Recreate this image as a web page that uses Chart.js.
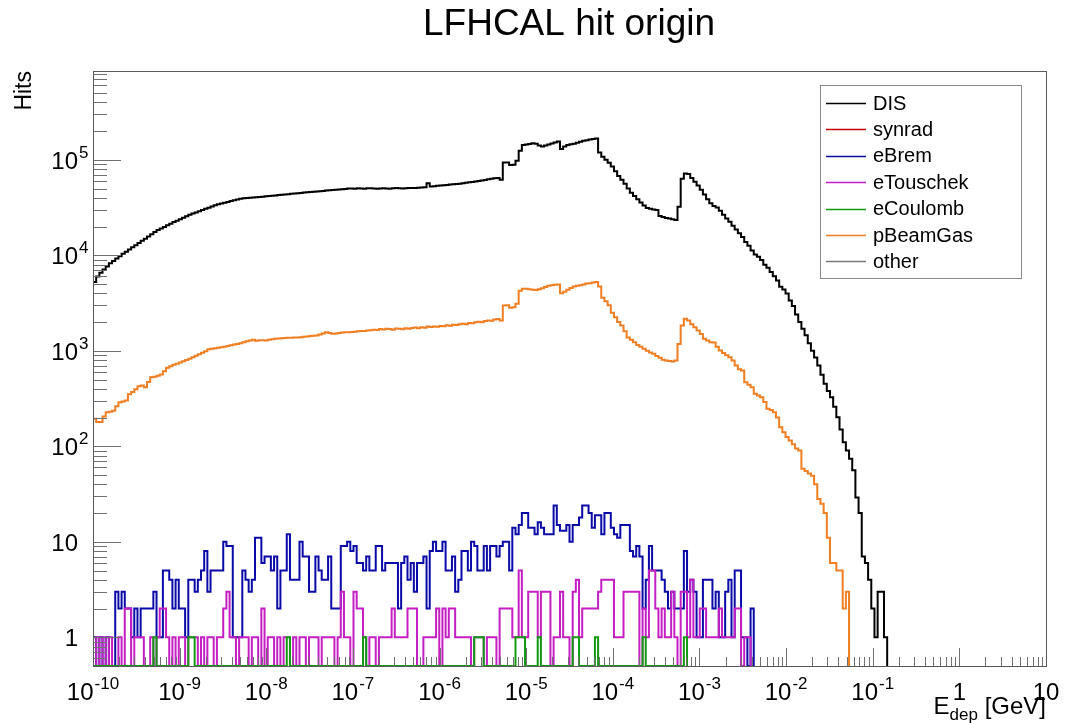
<!DOCTYPE html>
<html>
<head>
<meta charset="utf-8">
<script src="https://cdn.jsdelivr.net/npm/chart.js@4.4.1/dist/chart.umd.min.js"></script>
<style>
  html, body { margin: 0; padding: 0; background: #ffffff; }
  #tela { display: block; }
</style>
</head>
<body>
<canvas id="tela" width="1068" height="723"></canvas>
<script>
// binning of the histograms: log bins from 1e-10 to 10 GeV
const nBins = 300;
const logMin = -10;
const logMax = 1;

// hits per bin (bins after the last value are empty)
const disHits = [
  5250, 6000, 6560, 7080, 7640, 8240, 8710, 9250, 9790, 10380,
  10910, 11510, 12110, 12760, 13430, 14160, 14930, 15740, 16600, 17540,
  18370, 19100, 19820, 20610, 21430, 22230, 23010, 23880, 24720, 25640,
  26550, 27350, 28120, 28910, 29790, 30620, 31480, 32430, 33340, 34200,
  34830, 35560, 36220, 36980, 37670, 38460, 39170, 39450, 39720, 39990,
  40270, 40550, 40830, 41110, 41400, 41690, 41980, 42360, 42660, 42950,
  43250, 43650, 43950, 44260, 44670, 44980, 45290, 45600, 45920, 46240,
  46560, 46880, 47210, 47530, 47860, 48190, 48530, 48860, 49200, 49550,
  49890, 50100, 49800, 50300, 50000, 49700, 50200, 50400, 49900, 49600,
  50000, 50300, 50100, 49800, 50200, 50500, 50300, 50100, 50400, 50600,
  50470, 50580, 50930, 51290, 51640, 56890, 52480, 52840, 53330, 53700,
  54080, 54450, 54950, 55340, 55720, 56230, 56890, 57410, 58080, 58610,
  59290, 59980, 60810, 61520, 62370, 63100, 63970, 64570, 61800, 93800,
  93500, 88100, 88500, 97700, 124200, 142600, 144500, 146600, 148600, 147200,
  141300, 138000, 141300, 144500, 147900, 151400, 155200, 129400, 138000, 142900,
  145200, 147200, 150700, 154200, 157800, 160300, 162900, 165200, 167100, 119100,
  107200, 100000, 93300, 85100, 75900, 67600, 61700, 56200, 50100, 45200,
  41700, 38500, 35700, 33100, 31300, 30700, 30200, 29800, 25700, 25100,
  24500, 24200, 23800, 23400, 32200, 63100, 71900, 70800, 64600, 58900,
  53700, 48400, 43200, 38500, 35100, 32700, 31600, 29200, 26600, 24300,
  22400, 20400, 18600, 17000, 15500, 13800, 12600, 11200, 10200, 9660,
  8910, 7940, 7410, 6680, 6030, 5430, 4680, 4370, 3980, 3350,
  2950, 2400, 2000, 1700, 1450, 1200, 1000, 851, 700, 560,
  450, 380, 326, 260, 201, 150, 110, 90, 74, 56,
  29, 20, 7, 6, 4, 2, 1, 3, 3, 1
];

const synradHits = [];

const eBremHits = [
  1, 0, 1, 0, 1, 0, 0, 3, 2, 3,
  2, 2, 1, 2, 1, 2, 2, 2, 2, 3,
  1, 1, 5, 5, 4, 2, 4, 2, 2, 1,
  4, 4, 3, 4, 5, 8, 3, 5, 5, 5,
  5, 10, 9, 9, 1, 1, 1, 5, 4, 3,
  4, 11, 11, 6, 7, 7, 5, 7, 2, 5,
  5, 12, 4, 4, 4, 10, 7, 7, 3, 3,
  7, 5, 4, 4, 7, 2, 2, 2, 9, 9,
  10, 8, 9, 6, 6, 5, 7, 5, 5, 9,
  9, 5, 6, 6, 6, 6, 2, 6, 7, 4,
  6, 3, 6, 6, 7, 2, 8, 10, 8, 8,
  10, 5, 5, 7, 3, 4, 8, 8, 5, 10,
  9, 5, 5, 9, 5, 9, 9, 7, 9, 10,
  10, 5, 14, 12, 15, 20, 20, 14, 14, 12,
  16, 14, 12, 12, 12, 24, 15, 13, 13, 15,
  10, 15, 15, 18, 24, 24, 20, 14, 19, 19,
  12, 20, 20, 14, 12, 11, 15, 15, 15, 8,
  7, 9, 7, 2, 4, 9, 5, 5, 5, 4,
  3, 2, 3, 2, 2, 2, 8, 3, 4, 3,
  1, 1, 4, 4, 4, 2, 3, 1, 1, 3,
  4, 1, 5, 5, 1, 1, 0, 2
];

const eTouschekHits = [
  0, 1, 0, 1, 0, 1, 0, 0, 1, 0,
  2, 2, 0, 1, 1, 1, 0, 0, 1, 0,
  1, 2, 2, 1, 0, 1, 0, 1, 1, 0,
  1, 1, 1, 0, 1, 0, 1, 1, 0, 1,
  1, 2, 3, 1, 1, 0, 1, 1, 1, 0,
  1, 1, 0, 2, 0, 1, 1, 0, 1, 0,
  1, 1, 0, 1, 0, 1, 1, 0, 1, 1,
  1, 0, 1, 1, 1, 1, 0, 1, 3, 1,
  1, 0, 3, 2, 2, 1, 0, 1, 1, 0,
  1, 1, 1, 1, 2, 1, 1, 1, 1, 2,
  2, 2, 0, 0, 1, 1, 1, 1, 2, 0,
  2, 1, 2, 2, 1, 1, 1, 1, 1, 0,
  1, 1, 1, 0, 1, 1, 1, 0, 2, 2,
  2, 2, 1, 1, 5, 1, 1, 3, 3, 3,
  1, 3, 3, 3, 0, 1, 1, 3, 1, 1,
  0, 3, 4, 1, 2, 2, 2, 2, 2, 3,
  4, 4, 4, 4, 1, 1, 1, 3, 3, 3,
  3, 3, 0, 2, 1, 5, 5, 2, 1, 2,
  1, 1, 3, 1, 0, 3, 3, 1, 4, 1,
  1, 2, 2, 1, 1, 1, 1, 2, 1, 1,
  1, 1, 2, 2, 0, 1, 1
];

const eCoulombHits = [
  0, 0, 0, 0, 0, 0, 0, 0, 0, 0,
  0, 0, 0, 0, 0, 0, 0, 0, 0, 1,
  0, 0, 0, 0, 0, 0, 0, 0, 0, 0,
  1, 1, 0, 0, 0, 0, 0, 0, 0, 0,
  0, 0, 0, 0, 0, 0, 0, 0, 0, 0,
  0, 0, 0, 0, 0, 0, 0, 0, 0, 0,
  0, 1, 0, 0, 0, 0, 0, 0, 0, 0,
  0, 0, 0, 0, 0, 0, 0, 0, 0, 0,
  0, 0, 0, 0, 0, 1, 0, 0, 0, 0,
  0, 0, 0, 0, 0, 0, 0, 0, 0, 0,
  0, 0, 0, 0, 0, 0, 0, 0, 0, 0,
  0, 0, 0, 0, 0, 0, 0, 0, 0, 0,
  1, 1, 1, 0, 0, 0, 0, 0, 0, 0,
  0, 0, 0, 1, 1, 1, 0, 0, 0, 0,
  1, 0, 0, 0, 0, 0, 0, 0, 0, 0,
  0, 1, 1, 0, 0, 0, 0, 0, 1, 0,
  0, 0, 0, 0, 0, 0, 0, 0, 0, 0,
  0, 0, 0, 1, 0, 0, 0, 0, 0, 0,
  0, 0, 0, 0, 0, 0, 1
];

const pBeamGasHits = [
  194, 179, 180, 205, 227, 230, 235, 262, 289, 295,
  301, 350, 370, 395, 425, 433, 415, 470, 528, 535,
  548, 565, 610, 665, 690, 715, 730, 755, 775, 800,
  823, 855, 885, 920, 955, 990, 1040, 1050, 1065, 1075,
  1085, 1100, 1120, 1140, 1165, 1180, 1200, 1230, 1255, 1280,
  1300, 1270, 1290, 1285, 1278, 1300, 1320, 1332, 1340, 1350,
  1360, 1365, 1370, 1375, 1380, 1384, 1400, 1410, 1425, 1435,
  1442, 1480, 1520, 1560, 1530, 1503, 1520, 1535, 1550, 1560,
  1561, 1570, 1585, 1600, 1610, 1615, 1626, 1640, 1660, 1650,
  1690, 1670, 1700, 1690, 1660, 1710, 1700, 1680, 1720, 1700,
  1730, 1750, 1720, 1760, 1740, 1790, 1770, 1800, 1780, 1820,
  1810, 1850, 1830, 1870, 1860, 1890, 1920, 1900, 1950, 1940,
  1990, 2010, 1990, 2050, 2080, 2060, 2120, 2150, 2070, 2970,
  3000, 2820, 2850, 3100, 4260, 4450, 4450, 4400, 4350, 4340,
  4400, 4500, 4650, 4800, 4850, 4900, 4950, 4000, 4150, 4350,
  4550, 4700, 4800, 4850, 4950, 5050, 5100, 5200, 5250, 4700,
  3600, 3300, 3000, 2500, 2240, 2000, 1840, 1600, 1380, 1300,
  1230, 1150, 1100, 1050, 1000, 960, 929, 880, 843, 804,
  790, 780, 770, 789, 1180, 1836, 2158, 2070, 1900, 1762,
  1627, 1500, 1332, 1280, 1228, 1220, 1100, 1005, 950, 900,
  855, 789, 700, 640, 621, 469, 440, 415, 354, 340,
  326, 290, 247, 240, 227, 200, 158, 140, 125, 115,
  105, 95, 90, 58, 55, 52, 49, 40, 28, 25,
  20, 11, 6, 6, 5, 5, 2, 3
];

const otherHits = [];

const seriesNames = ['DIS', 'synrad', 'eBrem', 'eTouschek', 'eCoulomb', 'pBeamGas', 'other'];
const seriesHits = [disHits, synradHits, eBremHits, eTouschekHits, eCoulombHits, pBeamGasHits, otherHits];
const seriesColors = ['#000000', '#cc0000', '#0a0aa8', '#c41ec4', '#119a11', '#f07e22', '#7a7a7a'];

// axis ranges
const xMin = 1e-10, xMax = 10;
const yMin = 0.5, yMax = 8.5e5;

function binEdge(i) {
  return Math.pow(10, logMin + i * (logMax - logMin) / nBins);
}

// step points: one per bin low edge, empty bins sit on the bottom of the frame
function histPoints(hits) {
  const pts = [];
  if (hits.length === 0) return pts;
  for (let i = 0; i < hits.length; i++) {
    pts.push({ x: binEdge(i), y: hits[i] > 0 ? hits[i] : yMin });
  }
  pts.push({ x: binEdge(hits.length), y: yMin });
  return pts;
}

let datasets = [];
for (let s = 0; s < seriesNames.length; s++) {
  datasets.push({
    label: seriesNames[s],
    data: histPoints(seriesHits[s]),
    borderColor: seriesColors[s],
    backgroundColor: seriesColors[s],
    borderWidth: 2,
    stepped: true,
    fill: false,
    pointRadius: 0,
    borderJoinStyle: 'miter',
    borderCapStyle: 'butt',
    order: seriesNames.length - s
  });
}

const fonte = "'Liberation Sans', Arial, Helvetica, sans-serif";

// "10" with a raised exponent, anchor: 'center' or 'right' (right edge of the "10")
function potencia(ctx, expo, px, baseY, anchor) {
  const base = (expo === 0) ? '1' : (expo === 1 ? '10' : '10');
  const sup = (expo === 0 || expo === 1) ? '' : String(expo);
  ctx.font = '24px ' + fonte;
  const wBase = ctx.measureText(base).width;
  ctx.font = '17px ' + fonte;
  const wSup = sup ? ctx.measureText(sup).width + 1 : 0;
  let x0;
  if (anchor === 'center') x0 = px - (wBase + wSup) / 2;
  else x0 = px - wBase;
  ctx.textAlign = 'left';
  ctx.textBaseline = 'alphabetic';
  ctx.font = '24px ' + fonte;
  ctx.fillText(base, x0, baseY);
  if (sup) {
    ctx.font = '17px ' + fonte;
    ctx.fillText(sup, x0 + wBase + 1, baseY - 11);
  }
}

const visualRoot = {
  id: 'visualRoot',
  afterDatasetsDraw(chart) {
    const { ctx, chartArea: a, scales } = chart;
    const x = scales.x, y = scales.y;
    ctx.save();
    ctx.strokeStyle = '#707070';
    ctx.lineWidth = 1;
    ctx.beginPath();
    // x ticks, drawn up from the bottom axis
    for (let e = logMin; e <= logMax; e++) {
      for (let m = 1; m <= 9; m++) {
        const v = m * Math.pow(10, e);
        if (v < xMin * 0.999 || v > xMax * 1.001) continue;
        const px = Math.round(x.getPixelForValue(v)) + 0.5;
        const len = (m === 1) ? 18 : 9;
        ctx.moveTo(px, a.bottom);
        ctx.lineTo(px, a.bottom - len);
      }
    }
    // y ticks, drawn right from the left axis
    for (let e = -1; e <= 6; e++) {
      for (let m = 1; m <= 9; m++) {
        const v = m * Math.pow(10, e);
        if (v < yMin * 0.999 || v > yMax) continue;
        const py = Math.round(y.getPixelForValue(v)) + 0.5;
        const len = (m === 1) ? 28 : 14;
        ctx.moveTo(a.left, py);
        ctx.lineTo(a.left + len, py);
      }
    }
    ctx.stroke();
    // frame
    ctx.strokeStyle = '#5a5a5a';
    ctx.strokeRect(Math.round(a.left) + 0.5, Math.round(a.top) + 0.5,
      Math.round(a.right - a.left), Math.round(a.bottom - a.top));
    ctx.restore();
  },
  afterDraw(chart) {
    const { ctx, chartArea: a, scales } = chart;
    const x = scales.x, y = scales.y;
    ctx.save();
    ctx.fillStyle = '#000000';

    // title
    ctx.font = '37px ' + fonte;
    ctx.textAlign = 'center';
    ctx.textBaseline = 'alphabetic';
    ctx.fillText('LFHCAL hit origin', 569, 35);

    // x labels
    for (let e = logMin; e <= logMax; e++) {
      potencia(ctx, e, x.getPixelForValue(Math.pow(10, e)), 700, 'center');
    }
    // y labels
    for (let e = 0; e <= 5; e++) {
      const py = y.getPixelForValue(Math.pow(10, e));
      potencia(ctx, e, 78, py + 9, 'right');
    }

    // y title
    ctx.save();
    ctx.translate(31, a.top);
    ctx.rotate(-Math.PI / 2);
    ctx.font = '23px ' + fonte;
    ctx.textAlign = 'right';
    ctx.textBaseline = 'alphabetic';
    ctx.fillText('Hits', 0, 0);
    ctx.restore();

    // x title: E_dep [GeV]
    ctx.textAlign = 'left';
    ctx.font = '24px ' + fonte;
    const wRest = ctx.measureText(' [GeV]').width;
    const wE = ctx.measureText('E').width;
    ctx.font = '17px ' + fonte;
    const wDep = ctx.measureText('dep').width;
    let xt = a.right - wRest - wDep - wE;
    ctx.font = '24px ' + fonte;
    ctx.fillText('E', xt, 714);
    ctx.font = '17px ' + fonte;
    ctx.fillText('dep', xt + wE, 720);
    ctx.font = '24px ' + fonte;
    ctx.fillText(' [GeV]', xt + wE + wDep, 714);

    // legend
    const lx = 820, ly = 85, lw = 201, lh = 193;
    ctx.fillStyle = '#ffffff';
    ctx.fillRect(lx, ly, lw, lh);
    ctx.strokeStyle = '#8a8a8a';
    ctx.lineWidth = 1;
    ctx.strokeRect(lx + 0.5, ly + 0.5, lw, lh);
    ctx.font = '20px ' + fonte;
    ctx.textBaseline = 'middle';
    ctx.textAlign = 'left';
    chart.data.datasets.forEach(function (ds, i) {
      const ry = 103 + i * 26.4;
      ctx.strokeStyle = ds.borderColor;
      ctx.lineWidth = 1.5;
      ctx.beginPath();
      ctx.moveTo(826, Math.round(ry) + 0.5);
      ctx.lineTo(866, Math.round(ry) + 0.5);
      ctx.stroke();
      ctx.fillStyle = '#000000';
      ctx.fillText(ds.label, 873, ry + 1);
    });
    ctx.restore();
  }
};

const config = {
  type: 'line',
  data: { datasets: datasets },
  options: {
    responsive: false,
    animation: false,
    layout: { padding: { left: 93, top: 71, right: 22, bottom: 57 } },
    plugins: {
      legend: { display: false },
      title: { display: false },
      tooltip: { enabled: false }
    },
    scales: {
      x: { type: 'logarithmic', min: xMin, max: xMax, display: false },
      y: { type: 'logarithmic', min: yMin, max: yMax, display: false }
    }
  },
  plugins: [visualRoot]
};

let myChart = new Chart(document.getElementById('tela'), config);
</script>
</body>
</html>
